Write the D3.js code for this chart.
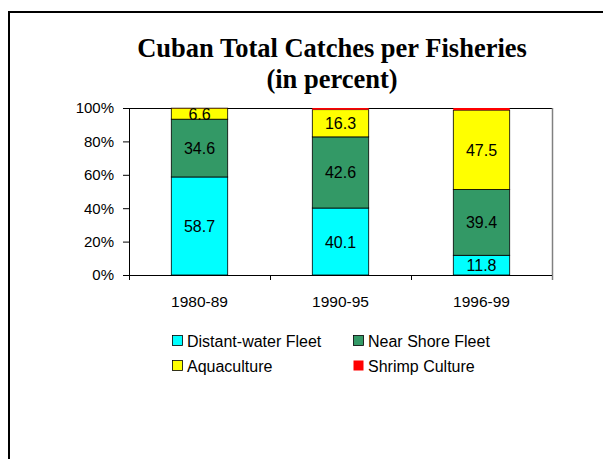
<!DOCTYPE html>
<html>
<head>
<meta charset="utf-8">
<script src="https://cdn.jsdelivr.net/npm/d3@7"></script>
<style>
  body { margin: 0; background: #fff; }
  svg text { font-family: "Liberation Sans", Arial, sans-serif; fill: #000; }
  .title { font-family: "Liberation Serif", "Times New Roman", serif; font-weight: bold; }
</style>
</head>
<body>
<svg id="chart" width="603" height="459"></svg>
<script>
// Data
const periods = ['1980-89', '1990-95', '1996-99'];
const seriesNames = ['Distant-water Fleet', 'Near Shore Fleet', 'Aquaculture', 'Shrimp Culture'];
const distantWater = [58.7, 40.1, 11.8];
const nearShore = [34.6, 42.6, 39.4];
const aquaculture = [6.6, 16.3, 47.5];
const shrimpCulture = [0.1, 1.0, 1.3];
const yTicks = [0, 20, 40, 60, 80, 100];
const colors = ['#00FFFF', '#339966', '#FFFF00', '#FF0000'];

const svg = d3.select('#chart');

// frame
svg.append('path')
    .attr('d', 'M9,459 V12 H603')
    .attr('fill', 'none')
    .attr('stroke', '#000')
    .attr('stroke-width', 2);

// title
const title = svg.append('text')
    .attr('class', 'title')
    .attr('text-anchor', 'middle')
    .attr('font-size', 26.5);
title.append('tspan').attr('x', 332).attr('y', 57).text('Cuban Total Catches per Fisheries');
title.append('tspan').attr('x', 332).attr('y', 88).text('(in percent)');

const plotLeft = 129, plotRight = 552, plotTop = 108, plotBottom = 275;

const x = d3.scaleBand().domain(periods).range([plotLeft, plotRight]).paddingInner(0.6).paddingOuter(0.3);
const y = d3.scaleLinear().domain([0, 100]).range([plotBottom, plotTop]);

// stacked data
const rows = periods.map((p, i) => ({
    period: p,
    s0: distantWater[i],
    s1: nearShore[i],
    s2: aquaculture[i],
    s3: shrimpCulture[i]
}));
const stack = d3.stack().keys(['s0', 's1', 's2', 's3'])
    .offset(d3.stackOffsetExpand);
const layers = stack(rows);

// plot area borders
svg.append('line')
    .attr('x1', plotLeft).attr('x2', plotRight).attr('y1', plotTop + 0.5).attr('y2', plotTop + 0.5)
    .attr('stroke', '#000').attr('stroke-width', 1);
svg.append('line')
    .attr('x1', plotRight + 0.5).attr('x2', plotRight + 0.5).attr('y1', plotTop).attr('y2', plotBottom + 5)
    .attr('stroke', '#808080').attr('stroke-width', 1.5);

// bars
layers.forEach((layer, li) => {
    svg.append('g').selectAll('rect')
        .data(layer)
        .join('rect')
        .attr('x', d => x(d.data.period))
        .attr('width', x.bandwidth())
        .attr('y', d => y(d[1] * 100))
        .attr('height', d => y(d[0] * 100) - y(d[1] * 100))
        .attr('fill', colors[li])
        .attr('stroke', li === 3 ? 'none' : '#000')
        .attr('stroke-width', 0.8);
});

// bar labels (first three series)
const labelSeries = [distantWater, nearShore, aquaculture];
layers.slice(0, 3).forEach((layer, li) => {
    svg.append('g').selectAll('text')
        .data(layer)
        .join('text')
        .attr('x', d => x(d.data.period) + x.bandwidth() / 2)
        .attr('y', d => y((d[0] + d[1]) / 2 * 100) + 6)
        .attr('text-anchor', 'middle')
        .attr('font-size', 16)
        .text((d, i) => labelSeries[li][i].toFixed(1));
});

// y axis
const yAxis = svg.append('g')
    .attr('transform', `translate(${plotLeft},0)`)
    .call(d3.axisLeft(y).tickValues(yTicks).tickFormat(d => d + '%').tickSize(6).tickPadding(9));
yAxis.select('.domain').attr('stroke', '#000');
yAxis.selectAll('text').attr('font-size', 15).attr('font-family', '"Liberation Sans", Arial, sans-serif');

// x axis: ticks at category boundaries
svg.append('line')
    .attr('x1', plotLeft).attr('x2', plotRight).attr('y1', plotBottom + 0.5).attr('y2', plotBottom + 0.5)
    .attr('stroke', '#000');
const step = x.step();
svg.append('g').selectAll('line')
    .data(d3.range(periods.length + 1))
    .join('line')
    .attr('x1', i => plotLeft + i * step + 0.5)
    .attr('x2', i => plotLeft + i * step + 0.5)
    .attr('y1', plotBottom)
    .attr('y2', plotBottom + 5)
    .attr('stroke', i => i === periods.length ? '#808080' : '#000');
svg.append('g').selectAll('text')
    .data(periods)
    .join('text')
    .attr('x', d => x(d) + x.bandwidth() / 2)
    .attr('y', 307)
    .attr('text-anchor', 'middle')
    .attr('font-size', 15.5)
    .text(d => d);

// legend
const legendPos = [[172, 341], [353, 341], [172, 366], [353, 366]];
seriesNames.forEach((name, i) => {
    const g = svg.append('g').attr('transform', `translate(${legendPos[i][0]},${legendPos[i][1]})`);
    g.append('rect')
        .attr('x', 0.5).attr('y', -5.5)
        .attr('width', 10).attr('height', 10)
        .attr('fill', colors[i])
        .attr('stroke', i === 3 ? 'none' : '#000')
        .attr('stroke-width', 0.8);
    g.append('text')
        .attr('x', 15)
        .attr('y', 6)
        .attr('font-size', 16)
        .text(name);
});
</script>
</body>
</html>
